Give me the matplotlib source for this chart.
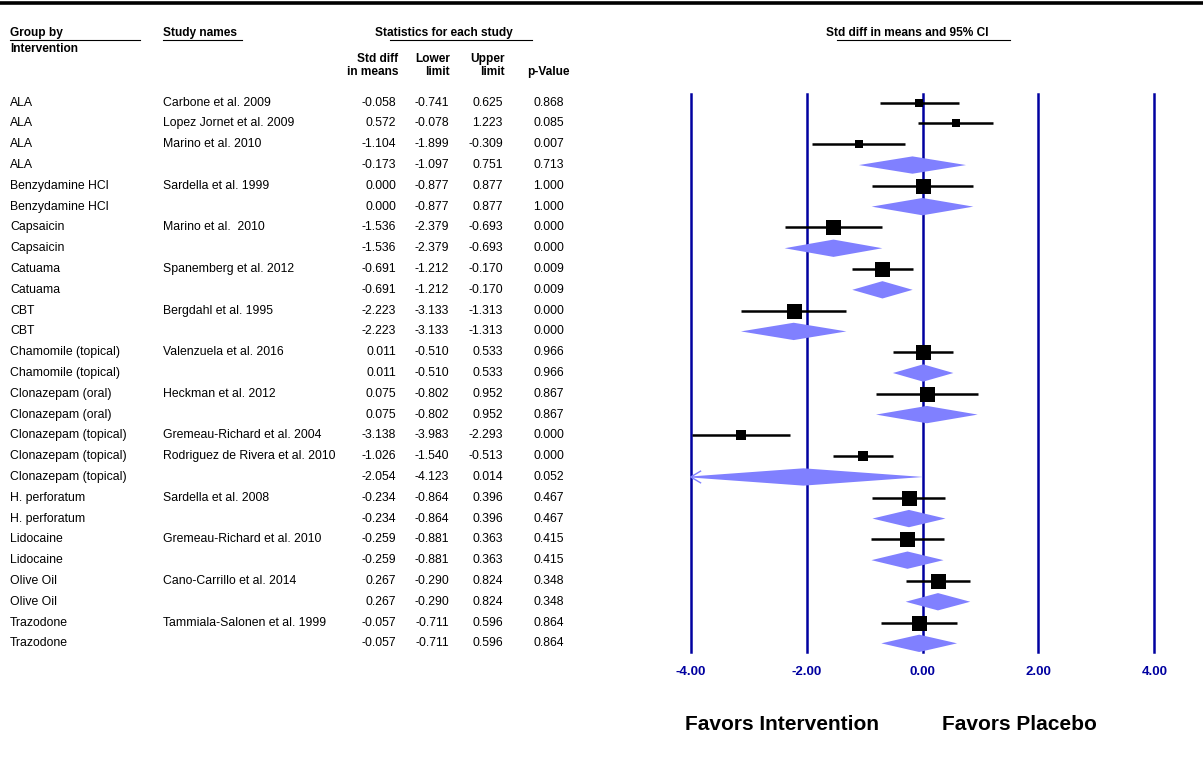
import numpy as np
import matplotlib.pyplot as plt
from matplotlib.patches import Polygon
from matplotlib.lines import Line2D
from matplotlib.transforms import blended_transform_factory

plt.rcParams['font.family'] = ['Liberation Sans', 'DejaVu Sans']

# Data
groups = ["ALA", "ALA", "ALA", "ALA",
          "Benzydamine HCl", "Benzydamine HCl",
          "Capsaicin", "Capsaicin",
          "Catuama", "Catuama",
          "CBT", "CBT",
          "Chamomile (topical)", "Chamomile (topical)",
          "Clonazepam (oral)", "Clonazepam (oral)",
          "Clonazepam (topical)", "Clonazepam (topical)", "Clonazepam (topical)",
          "H. perforatum", "H. perforatum",
          "Lidocaine", "Lidocaine",
          "Olive Oil", "Olive Oil",
          "Trazodone", "Trazodone"]
studies = ["Carbone et al. 2009", "Lopez Jornet et al. 2009", "Marino et al. 2010", "",
           "Sardella et al. 1999", "",
           "Marino et al.  2010", "",
           "Spanemberg et al. 2012", "",
           "Bergdahl et al. 1995", "",
           "Valenzuela et al. 2016", "",
           "Heckman et al. 2012", "",
           "Gremeau-Richard et al. 2004", "Rodriguez de Rivera et al. 2010", "",
           "Sardella et al. 2008", "",
           "Gremeau-Richard et al. 2010", "",
           "Cano-Carrillo et al. 2014", "",
           "Tammiala-Salonen et al. 1999", ""]
std_diff = [-0.058, 0.572, -1.104, -0.173, 0.000, 0.000, -1.536, -1.536, -0.691, -0.691,
            -2.223, -2.223, 0.011, 0.011, 0.075, 0.075, -3.138, -1.026, -2.054,
            -0.234, -0.234, -0.259, -0.259, 0.267, 0.267, -0.057, -0.057]
lower = [-0.741, -0.078, -1.899, -1.097, -0.877, -0.877, -2.379, -2.379, -1.212, -1.212,
         -3.133, -3.133, -0.510, -0.510, -0.802, -0.802, -3.983, -1.540, -4.123,
         -0.864, -0.864, -0.881, -0.881, -0.290, -0.290, -0.711, -0.711]
upper = [0.625, 1.223, -0.309, 0.751, 0.877, 0.877, -0.693, -0.693, -0.170, -0.170,
         -1.313, -1.313, 0.533, 0.533, 0.952, 0.952, -2.293, -0.513, 0.014,
         0.396, 0.396, 0.363, 0.363, 0.824, 0.824, 0.596, 0.596]
p_values = [0.868, 0.085, 0.007, 0.713, 1.000, 1.000, 0.000, 0.000, 0.009, 0.009,
            0.000, 0.000, 0.966, 0.966, 0.867, 0.867, 0.000, 0.000, 0.052,
            0.467, 0.467, 0.415, 0.415, 0.348, 0.348, 0.864, 0.864]
ticks = [-4, -2, 0, 2, 4]
tick_labels = ["-4.00", "-2.00", "0.00", "2.00", "4.00"]

n = len(groups)
W, H = 1203, 762
BLUE = '#0000A0'
DIAMOND = '#8080FF'


def fx(px):
    return px / W


def fy(py):
    return 1 - py / H


# relative random-effects weight of each study inside its group (box size)
def box_weights():
    weights = {}
    for g in dict.fromkeys(groups):
        idx = [i for i in range(n) if groups[i] == g and studies[i] != ""]
        se = np.array([(upper[i] - lower[i]) / (2 * 1.96) for i in idx])
        y = np.array([std_diff[i] for i in idx])
        v = se ** 2
        w = 1 / v
        tau2 = 0.0
        if len(idx) > 1:
            ybar = np.sum(w * y) / np.sum(w)
            q = np.sum(w * (y - ybar) ** 2)
            c = np.sum(w) - np.sum(w ** 2) / np.sum(w)
            tau2 = max(0.0, (q - (len(idx) - 1)) / c)
        wr = 1 / (v + tau2)
        wr = wr / wr.sum()
        for i, r in zip(idx, wr):
            weights[i] = r
    return weights


fig = plt.figure(figsize=(W / 100, H / 100), dpi=100)
row_px = 21.6
top_px, bot_px = 94, 652
ax = fig.add_axes([fx(690.7), fy(bot_px), (1154.3 - 690.7) / W, (bot_px - top_px) / H])
pad = 9 / row_px
ax.set_xlim(-4, 4)
ax.set_ylim(n - 1 + pad, -pad)
ax.axis('off')

for t in ticks:
    ax.axvline(t, color=BLUE, lw=1.8, clip_on=False, zorder=1)

weights = box_weights()
h = 9 / row_px
for i in range(n):
    if studies[i] != "":
        ax.plot([lower[i], upper[i]], [i, i], color='black', lw=1.8,
                solid_capstyle='butt', zorder=2)
        side = 15 * np.sqrt(weights[i]) * 72 / 100
        ax.plot(std_diff[i], i, marker='s', ms=side, color='black', mew=0, zorder=3)
    else:
        lo, est, hi = lower[i], std_diff[i], upper[i]
        if lo < -4:
            hh = h * (-4 - lo) / (est - lo)
            pts = [(-4, i - hh), (est, i - h), (hi, i), (est, i + h), (-4, i + hh)]
            ax.plot([-4 + 0.17, -4, -4 + 0.17], [i - 0.28, i, i + 0.28],
                    color=DIAMOND, lw=1.0, zorder=3, clip_on=False)
        else:
            pts = [(lo, i), (est, i - h), (hi, i), (est, i + h)]
        ax.add_patch(Polygon(pts, closed=True, facecolor=DIAMOND, edgecolor='none', zorder=2))

# table text
tr = blended_transform_factory(fig.transFigure, ax.transData)
fs = 8.8
for i in range(n):
    fig.text(fx(10), i, groups[i], transform=tr, fontsize=fs, va='center', ha='left')
    fig.text(fx(163), i, studies[i], transform=tr, fontsize=fs, va='center', ha='left')
    fig.text(fx(396), i, f"{std_diff[i]:.3f}", transform=tr, fontsize=fs, va='center', ha='right')
    fig.text(fx(449), i, f"{lower[i]:.3f}", transform=tr, fontsize=fs, va='center', ha='right')
    fig.text(fx(503), i, f"{upper[i]:.3f}", transform=tr, fontsize=fs, va='center', ha='right')
    fig.text(fx(564), i, f"{p_values[i]:.3f}", transform=tr, fontsize=fs, va='center', ha='right')

# headers
hk = dict(fontsize=8.6, fontweight='bold', va='center')
fig.text(fx(10), fy(33), "Group by", ha='left', **hk)
fig.text(fx(10), fy(49), "Intervention", ha='left', **hk)
fig.text(fx(163), fy(33), "Study names", ha='left', **hk)
fig.text(fx(444), fy(33), "Statistics for each study", ha='center', **hk)
fig.text(fx(398), fy(59), "Std diff", ha='right', **hk)
fig.text(fx(398), fy(72), "in means", ha='right', **hk)
fig.text(fx(450), fy(59), "Lower", ha='right', **hk)
fig.text(fx(450), fy(72), "limit", ha='right', **hk)
fig.text(fx(505), fy(59), "Upper", ha='right', **hk)
fig.text(fx(505), fy(72), "limit", ha='right', **hk)
fig.text(fx(570), fy(72), "p-Value", ha='right', **hk)
fig.text(fx(907), fy(33), "Std diff in means and 95% CI", ha='center', **hk)

for x0, x1 in [(10, 140), (163, 242), (390, 532), (837, 1010)]:
    fig.add_artist(Line2D([fx(x0), fx(x1)], [fy(39.5), fy(39.5)], transform=fig.transFigure,
                          color='black', lw=0.8))
fig.add_artist(Line2D([0, 1], [fy(3), fy(3)], transform=fig.transFigure, color='black', lw=2.6))

# x tick labels and favours text
trx = blended_transform_factory(ax.transData, fig.transFigure)
for t, lab in zip(ticks, tick_labels):
    fig.text(t, fy(672), lab, transform=trx, ha='center', va='center', fontsize=9.5,
             fontweight='bold', color=BLUE)
fig.text(fx(685), fy(725), "Favors Intervention", ha='left', va='center', fontsize=15,
         fontweight='bold')
fig.text(fx(942), fy(725), "Favors Placebo", ha='left', va='center', fontsize=15,
         fontweight='bold')

fig.savefig('out.png', dpi=100)
